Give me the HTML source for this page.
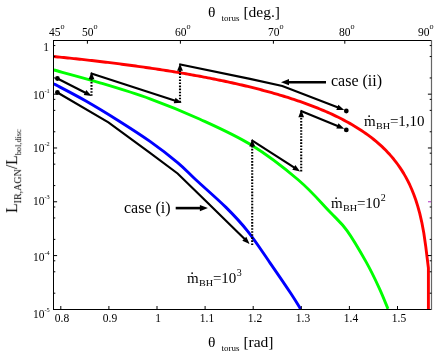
<!DOCTYPE html>
<html><head><meta charset="utf-8"><title>plot</title>
<style>
html,body{margin:0;padding:0;background:#fff;}
body{width:434px;height:354px;overflow:hidden;position:relative;font-family:"Liberation Serif",serif;color:#000;}
svg{position:absolute;left:0;top:0;}
.t{position:absolute;white-space:nowrap;line-height:1;will-change:transform;}
.tk{font-size:11.5px;}
.c{transform:translateX(-50%);}
.r{transform:translateX(-100%);}
.sup{font-size:6.3px;position:relative;top:-6.1px;}
.deg{font-size:8.2px;position:relative;top:-7.4px;}
.lab{font-size:15.5px;}
.sub{font-size:10px;position:relative;top:3.5px;}
.bh{font-size:9px;display:inline-block;transform:scaleX(1.13);transform-origin:0 50%;margin-right:1.7px;position:relative;top:3.2px;}
.sp{font-size:10px;position:relative;top:-7px;margin-left:0.4px;}
.eq{letter-spacing:0px;}
</style></head><body>
<svg width="434" height="354" viewBox="0 0 434 354">
<g fill="none" stroke-linejoin="round">
<path d="M53.80,56.55 L55.80,56.74 L57.80,56.94 L59.80,57.14 L61.80,57.34 L63.80,57.54 L65.80,57.74 L67.80,57.95 L69.80,58.16 L71.80,58.36 L73.80,58.57 L75.80,58.79 L77.80,59.00 L79.80,59.22 L81.80,59.43 L83.80,59.65 L85.80,59.87 L87.80,60.10 L89.80,60.32 L91.80,60.55 L93.80,60.78 L95.80,61.01 L97.80,61.24 L99.80,61.48 L101.80,61.71 L103.80,61.95 L105.80,62.19 L107.80,62.43 L109.80,62.68 L111.80,62.93 L113.80,63.17 L115.80,63.43 L117.80,63.68 L119.80,63.93 L121.80,64.19 L123.80,64.45 L125.80,64.71 L127.80,64.98 L129.80,65.25 L131.80,65.51 L133.80,65.79 L135.80,66.06 L137.80,66.34 L139.80,66.62 L141.80,66.90 L143.80,67.18 L145.80,67.47 L147.80,67.76 L149.80,68.05 L151.80,68.34 L153.80,68.64 L155.80,68.94 L157.80,69.24 L159.80,69.55 L161.80,69.85 L163.80,70.16 L165.80,70.48 L167.80,70.79 L169.80,71.11 L171.80,71.44 L173.80,71.76 L175.80,72.09 L177.80,72.42 L179.80,72.76 L181.80,73.10 L183.80,73.44 L185.80,73.78 L187.80,74.13 L189.80,74.48 L191.80,74.84 L193.80,75.20 L195.80,75.56 L197.80,75.93 L199.80,76.29 L201.80,76.67 L203.80,77.05 L205.80,77.43 L207.80,77.81 L209.80,78.20 L211.80,78.59 L213.80,78.99 L215.80,79.39 L217.80,79.80 L219.80,80.21 L221.80,80.62 L223.80,81.04 L225.80,81.47 L227.80,81.90 L229.80,82.33 L231.80,82.77 L233.80,83.21 L235.80,83.66 L237.80,84.11 L239.80,84.57 L241.80,85.03 L243.80,85.50 L245.80,85.98 L247.80,86.46 L249.80,86.95 L251.80,87.44 L253.80,87.94 L255.80,88.44 L257.80,88.95 L259.80,89.47 L261.80,89.99 L263.80,90.53 L265.80,91.06 L267.80,91.61 L269.80,92.16 L271.80,92.72 L273.80,93.29 L275.80,93.86 L277.80,94.44 L279.80,95.04 L281.80,95.63 L283.80,96.24 L285.80,96.86 L287.80,97.49 L289.80,98.12 L291.80,98.77 L293.80,99.42 L295.80,100.09 L297.80,100.76 L299.80,101.45 L301.80,102.14 L303.80,102.85 L305.80,103.57 L307.80,104.30 L309.80,105.05 L311.80,105.81 L313.80,106.58 L315.80,107.36 L317.80,108.16 L319.80,108.97 L321.80,109.80 L323.80,110.65 L325.80,111.51 L327.80,112.39 L329.80,113.28 L331.80,114.19 L333.80,115.13 L335.80,116.08 L337.80,117.05 L339.80,118.05 L341.80,119.07 L343.80,120.11 L345.80,121.17 L347.80,122.26 L349.80,123.38 L351.80,124.53 L353.80,125.70 L355.80,126.91 L357.80,128.15 L359.80,129.42 L361.80,130.73 L363.80,132.08 L365.80,133.47 L367.80,134.91 L369.80,136.39 L371.80,137.92 L373.80,139.50 L375.80,141.14 L377.80,142.84 L379.80,144.60 L381.80,146.43 L383.80,148.34 L385.80,150.33 L387.80,152.41 L389.80,154.59 L391.80,156.88 L393.80,159.28 L395.80,161.82 L397.80,164.50 L399.80,167.35 L401.80,170.38 L403.80,173.62 L405.80,177.11 L407.80,180.88 L409.80,184.98 L411.80,189.47 L413.80,194.45 L415.80,200.01 L417.80,206.34 L419.80,213.65 L421.80,222.33 L423.80,233.00 L425.80,246.85 L428.40,268.00 L428.40,309.40" stroke="#ff0000" stroke-width="2.9"/>
<path d="M53.80,70.00 C61.50,72.13 83.97,78.00 100.00,82.80 C116.03,87.60 133.33,92.73 150.00,98.80 C166.67,104.87 183.17,111.53 200.00,119.20 C216.83,126.87 234.60,134.67 251.00,144.80 C267.40,154.93 285.23,168.80 298.40,180.00 C311.57,191.20 321.90,203.57 330.00,212.00 C338.10,220.43 340.98,222.28 347.00,230.60 C353.02,238.92 360.75,252.37 366.10,261.90 C371.45,271.43 375.45,279.97 379.10,287.80 C382.75,295.63 386.52,305.38 388.00,308.90" stroke="#00ff00" stroke-width="2.9"/>
<path d="M53.80,83.80 C59.00,86.58 74.22,94.35 85.00,100.50 C95.78,106.65 107.67,113.88 118.50,120.70 C129.33,127.52 140.15,134.42 150.00,141.40 C159.85,148.38 169.92,156.17 177.60,162.60 C185.28,169.03 188.03,172.53 196.10,180.00 C204.17,187.47 217.35,198.80 226.00,207.40 C234.65,216.00 240.67,222.37 248.00,231.60 C255.33,240.83 262.85,252.48 270.00,262.80 C277.15,273.12 285.80,285.80 290.90,293.50 C296.00,301.20 298.98,306.42 300.60,309.00" stroke="#0000ff" stroke-width="2.9"/>
</g>
<path d="M57.40,92.50 L108.40,122.30 L150.00,152.80 L177.60,173.50 L204.80,200.00 L245.40,239.77" fill="none" stroke="#000" stroke-width="2.15" stroke-linejoin="miter"/>
<path d="M249.60,243.89 L242.32,240.75 L246.31,236.68 Z" fill="#000"/>
<circle cx="57.40" cy="92.50" r="2.40" fill="#000"/>
<path d="M57.40,78.50 L86.38,93.25" fill="none" stroke="#000" stroke-width="2.15" stroke-linejoin="miter"/>
<path d="M91.62,95.92 L83.74,95.10 L86.32,90.02 Z" fill="#000"/>
<circle cx="57.40" cy="78.50" r="2.40" fill="#000"/>
<path d="M91.50,95.80 L91.50,78.42" fill="none" stroke="#000" stroke-width="2.1" stroke-dasharray="1.6 1.45"/>
<path d="M91.50,71.90 L94.35,79.30 L88.65,79.30 Z" fill="#000"/>
<path d="M90.60,73.20 L176.07,100.90" fill="none" stroke="#000" stroke-width="2.15" stroke-linejoin="miter"/>
<path d="M181.67,102.72 L173.75,103.15 L175.51,97.72 Z" fill="#000"/>
<path d="M180.00,102.40 L180.00,69.92" fill="none" stroke="#000" stroke-width="2.1" stroke-dasharray="1.6 1.45"/>
<path d="M180.00,63.40 L182.85,70.80 L177.15,70.80 Z" fill="#000"/>
<path d="M179.20,64.20 L250.00,78.90 L282.30,86.00 L338.77,107.83" fill="none" stroke="#000" stroke-width="2.15" stroke-linejoin="miter"/>
<path d="M344.25,109.95 L336.32,109.94 L338.38,104.63 Z" fill="#000"/>
<circle cx="346.30" cy="111.00" r="2.40" fill="#000"/>
<path d="M252.20,245.00 L252.20,145.52" fill="none" stroke="#000" stroke-width="2.1" stroke-dasharray="1.6 1.45"/>
<path d="M252.20,139.00 L255.05,146.40 L249.35,146.40 Z" fill="#000"/>
<path d="M251.50,140.20 L295.14,168.20" fill="none" stroke="#000" stroke-width="2.15" stroke-linejoin="miter"/>
<path d="M300.09,171.38 L292.32,169.78 L295.40,164.98 Z" fill="#000"/>
<path d="M301.20,171.40 L301.20,116.32" fill="none" stroke="#000" stroke-width="2.1" stroke-dasharray="1.6 1.45"/>
<path d="M301.20,109.80 L304.05,117.20 L298.35,117.20 Z" fill="#000"/>
<path d="M300.40,110.80 L338.80,126.45" fill="none" stroke="#000" stroke-width="2.15" stroke-linejoin="miter"/>
<path d="M344.25,128.66 L336.32,128.51 L338.47,123.23 Z" fill="#000"/>
<circle cx="346.30" cy="129.90" r="2.40" fill="#000"/>
<path d="M326.00,82.20 L286.60,82.20" stroke="#000" stroke-width="2.60"/>
<path d="M281.00,82.20 L289.00,79.10 L289.00,85.30 Z" fill="#000"/>
<path d="M175.70,208.10 L202.30,208.10" stroke="#000" stroke-width="2.60"/>
<path d="M207.90,208.10 L199.90,211.20 L199.90,205.00 Z" fill="#000"/>
<g stroke="#000" stroke-width="1" fill="none">
<path d="M53.5,40 L53.5,310 M53,309.5 L432,309.5 M53,40.5 L432,40.5"/>
</g>
<path d="M431.5,40 L431.5,310" stroke="#666" stroke-width="1.2"/>
<path d="M60.8,309.5 L60.8,306 M108.9,309.5 L108.9,306 M157.0,309.5 L157.0,306 M205.1,309.5 L205.1,306 M253.2,309.5 L253.2,306 M301.3,309.5 L301.3,306 M349.4,309.5 L349.4,306 M397.5,309.5 L397.5,306 M87.4,40.5 L87.4,43.7 M180.4,40.5 L180.4,43.7 M273.4,40.5 L273.4,43.7 M344.8,40.5 L344.8,43.7 M53.5,45.56 L55.30,45.56 M431.5,45.56 L429.70,45.56 M53.5,56.55 L55.30,56.55 M431.5,56.55 L429.70,56.55 M53.5,77.96 L55.30,77.96 M431.5,77.96 L429.70,77.96 M53.5,94.16 L57.10,94.16 M431.5,94.16 L427.90,94.16 M53.5,99.37 L55.30,99.37 M431.5,99.37 L429.70,99.37 M53.5,110.36 L55.30,110.36 M431.5,110.36 L429.70,110.36 M53.5,131.77 L55.30,131.77 M431.5,131.77 L429.70,131.77 M53.5,147.97 L57.10,147.97 M431.5,147.97 L427.90,147.97 M53.5,153.18 L55.30,153.18 M431.5,153.18 L429.70,153.18 M53.5,164.17 L55.30,164.17 M431.5,164.17 L429.70,164.17 M53.5,185.58 L55.30,185.58 M431.5,185.58 L429.70,185.58 M53.5,201.78 L57.10,201.78 M53.5,206.99 L55.30,206.99 M431.5,206.99 L429.70,206.99 M53.5,217.98 L55.30,217.98 M431.5,217.98 L429.70,217.98 M53.5,239.39 L55.30,239.39 M431.5,239.39 L429.70,239.39 M53.5,255.59 L57.10,255.59 M431.5,255.59 L427.90,255.59 M53.5,260.80 L55.30,260.80 M431.5,260.80 L429.70,260.80 M53.5,271.79 L55.30,271.79 M431.5,271.79 L429.70,271.79 M53.5,293.20 L55.30,293.20 M431.5,293.20 L429.70,293.20" stroke="#000" stroke-width="1" fill="none"/>
<path d="M428,201.78 L431,201.78" stroke="#b030c0" stroke-width="1"/>
</svg>
<div class="t tk c" style="left:62.2px;top:313.3px;">0.8</div>
<div class="t tk c" style="left:110.3px;top:313.3px;">0.9</div>
<div class="t tk c" style="left:158.4px;top:313.3px;">1</div>
<div class="t tk c" style="left:206.5px;top:313.3px;">1.1</div>
<div class="t tk c" style="left:254.6px;top:313.3px;">1.2</div>
<div class="t tk c" style="left:302.7px;top:313.3px;">1.3</div>
<div class="t tk c" style="left:350.8px;top:313.3px;">1.4</div>
<div class="t tk c" style="left:398.9px;top:313.3px;">1.5</div>
<div class="t tk" style="left:49.4px;top:27.1px;">45<span class="deg">o</span></div>
<div class="t tk" style="left:82.4px;top:27.1px;">50<span class="deg">o</span></div>
<div class="t tk" style="left:175.4px;top:27.1px;">60<span class="deg">o</span></div>
<div class="t tk" style="left:268.4px;top:27.1px;">70<span class="deg">o</span></div>
<div class="t tk" style="left:338.6px;top:27.1px;">80<span class="deg">o</span></div>
<div class="t tk" style="left:417.7px;top:27.1px;">90<span class="deg">o</span></div>
<div class="t tk r" style="left:49.0px;top:42.3px;">1</div>
<div class="t tk" style="left:33.2px;top:89.8px;">10<span class="sup">-1</span></div>
<div class="t tk" style="left:33.2px;top:143.3px;">10<span class="sup">-2</span></div>
<div class="t tk" style="left:33.2px;top:196.4px;">10<span class="sup">-3</span></div>
<div class="t tk" style="left:33.2px;top:252.4px;">10<span class="sup">-4</span></div>
<div class="t tk" style="left:33.2px;top:308.8px;">10<span class="sup">-5</span></div>
<div class="t lab" style="left:207.5px;top:3.5px;">θ <span class="sub" style="font-size:9px;margin-left:2.2px">torus</span> [deg.]</div>
<div class="t lab" style="left:207.5px;top:333.7px;">θ <span class="sub" style="font-size:9px;margin-left:2.2px">torus</span> [rad]</div>
<div class="t lab" style="left:331.0px;top:73.3px;font-size:16px">case (ii)</div>
<div class="t lab" style="left:124.0px;top:200.3px;font-size:16px">case (i)</div>
<div class="t lab" style="left:363.5px;top:114.1px;font-size:15px"><span style="position:relative">m<span style="position:absolute;left:3.2px;top:-7.6px;font-size:15px">.</span></span><span class="bh">BH</span><span class="eq">=</span>1,10</div>
<div class="t lab" style="left:331.4px;top:195.6px;font-size:15px"><span style="position:relative">m<span style="position:absolute;left:3.2px;top:-7.6px;font-size:15px">.</span></span><span class="bh">BH</span><span class="eq">=</span>10<span class="sp">2</span></div>
<div class="t lab" style="left:187.0px;top:270.6px;font-size:15px"><span style="position:relative">m<span style="position:absolute;left:3.2px;top:-7.6px;font-size:15px">.</span></span><span class="bh">BH</span><span class="eq">=</span>10<span class="sp">3</span></div>
<div class="t lab" style="left:12.4px;top:170.9px;transform:translate(-50%,-50%) rotate(-90deg);font-size:15.7px">L<span class="sub" style="font-size:10px">IR,AGN</span>/L<span class="sub" style="font-size:8.3px">bol,disc</span></div>
</body></html>
